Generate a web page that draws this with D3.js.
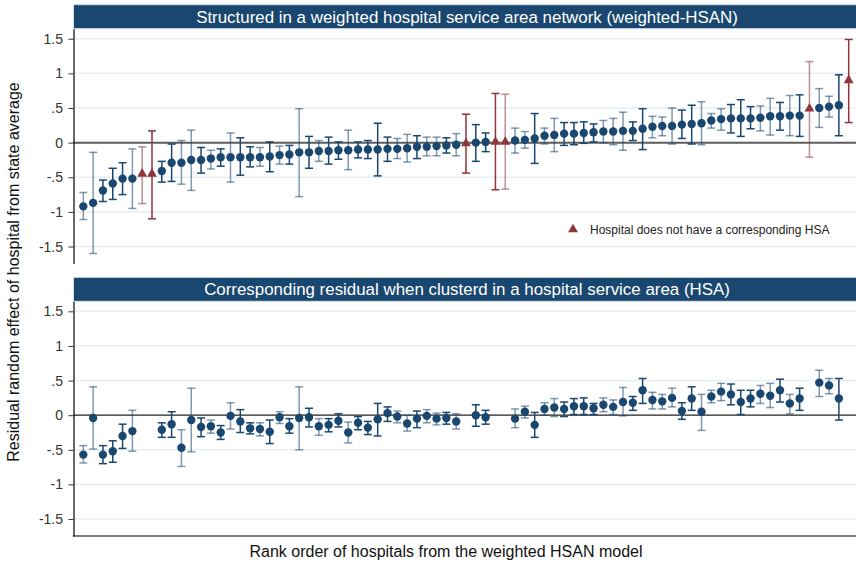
<!DOCTYPE html>
<html>
<head>
<meta charset="utf-8">
<script src="https://cdn.jsdelivr.net/npm/d3@7"></script>
<style>
  body { margin: 0; background: #fff; }
  text { font-family: "Liberation Sans", Arial, sans-serif; }
</style>
</head>
<body>
<div id="chart"></div>
<script>
// rank order of hospitals (weighted HSAN model)
let ranks = d3.range(1, 80);

// top panel: weighted-HSAN residuals
let hsanEst = [-0.92,-0.87,-0.69,-0.59,-0.52,-0.52,-0.45,-0.45,-0.41,-0.29,
  -0.29,-0.25,-0.25,-0.23,-0.21,-0.21,-0.21,-0.21,-0.21,-0.20,
  -0.18,-0.17,-0.14,-0.14,-0.12,-0.12,-0.11,-0.11,-0.10,-0.10,
  -0.10,-0.09,-0.09,-0.08,-0.06,-0.06,-0.05,-0.04,-0.03,-0.01,
  0.00,0.01,0.01,0.01,0.03,0.04,0.06,0.10,0.11,0.13,
  0.13,0.14,0.15,0.16,0.16,0.17,0.17,0.20,0.23,0.24,
  0.24,0.26,0.27,0.28,0.32,0.34,0.35,0.35,0.35,0.36,
  0.38,0.38,0.39,0.39,0.49,0.50,0.52,0.54,0.90];
let hsanLo = [-1.11,-1.60,-0.85,-0.82,-0.75,-0.95,-0.88,-1.10,-0.57,-0.56,
  -0.60,-0.69,-0.44,-0.38,-0.34,-0.57,-0.47,-0.35,-0.34,-0.42,
  -0.31,-0.31,-0.78,-0.37,-0.27,-0.31,-0.24,-0.39,-0.22,-0.23,
  -0.48,-0.27,-0.23,-0.28,-0.23,-0.19,-0.19,-0.15,-0.19,-0.44,
  -0.27,-0.13,-0.68,-0.67,-0.15,-0.08,-0.30,-0.02,-0.13,-0.04,
  -0.03,-0.01,0.01,0.00,-0.03,-0.11,0.03,-0.10,0.07,0.10,
  -0.02,0.06,-0.02,-0.03,0.21,0.18,0.14,0.09,0.20,0.17,
  0.11,0.18,0.10,0.09,-0.21,0.22,0.37,0.10,0.29];
let hsanHi = [-0.72,-0.14,-0.54,-0.37,-0.29,-0.09,-0.06,0.17,-0.27,-0.02,
  0.03,0.18,-0.07,-0.11,-0.09,0.14,0.07,-0.06,-0.07,0.01,
  -0.05,-0.04,0.49,0.09,0.03,0.08,0.01,0.18,0.01,0.03,
  0.28,0.08,0.06,0.12,0.10,0.08,0.08,0.07,0.13,0.41,
  0.26,0.14,0.71,0.70,0.21,0.16,0.42,0.21,0.35,0.29,
  0.29,0.30,0.27,0.32,0.35,0.44,0.30,0.49,0.38,0.37,
  0.50,0.47,0.54,0.59,0.42,0.49,0.55,0.62,0.52,0.53,
  0.64,0.58,0.68,0.69,1.17,0.78,0.67,0.98,1.49];

// bottom panel: HSA residuals (null = no corresponding HSA)
let hsaEst = [-0.57,-0.04,-0.57,-0.52,-0.30,-0.23,null,null,-0.21,-0.13,
  -0.47,-0.07,-0.17,-0.16,-0.25,-0.01,-0.09,-0.19,-0.20,-0.24,
  -0.03,-0.16,-0.04,-0.03,-0.16,-0.14,-0.08,-0.25,-0.11,-0.18,
  -0.06,0.03,-0.02,-0.12,-0.05,-0.01,-0.05,-0.04,-0.09,null,
  0.00,-0.03,null,null,-0.05,0.05,-0.14,0.09,0.11,0.09,
  0.13,0.13,0.10,0.15,0.12,0.19,0.18,0.36,0.22,0.20,
  0.25,0.06,0.24,0.05,0.27,0.34,0.30,0.19,0.24,0.31,
  0.28,0.36,0.17,0.24,null,0.47,0.43,0.24,null];
let hsaLo = [-0.69,-0.49,-0.70,-0.68,-0.48,-0.52,null,null,-0.32,-0.32,
  -0.74,-0.53,-0.31,-0.26,-0.35,-0.20,-0.25,-0.27,-0.30,-0.41,
  -0.12,-0.26,-0.50,-0.17,-0.29,-0.24,-0.17,-0.40,-0.21,-0.28,
  -0.30,-0.09,-0.11,-0.23,-0.18,-0.11,-0.14,-0.13,-0.20,null,
  -0.16,-0.13,null,null,-0.18,-0.04,-0.32,0.00,-0.02,-0.02,
  0.01,0.01,0.01,0.05,0.01,-0.01,0.07,0.17,0.09,0.09,
  0.12,-0.06,0.07,-0.22,0.18,0.21,0.15,0.01,0.12,0.17,
  0.11,0.19,0.02,0.07,null,0.27,0.31,-0.07,null];
let hsaHi = [-0.44,0.41,-0.44,-0.37,-0.13,0.07,null,null,-0.11,0.05,
  -0.21,0.39,-0.04,-0.07,-0.15,0.18,0.08,-0.11,-0.11,-0.07,
  0.05,-0.05,0.41,0.10,-0.05,-0.05,0.02,-0.10,-0.02,-0.09,
  0.17,0.12,0.06,0.00,0.06,0.08,0.03,0.04,0.02,null,
  0.15,0.07,null,null,0.09,0.13,0.04,0.18,0.24,0.19,
  0.24,0.25,0.17,0.25,0.22,0.40,0.27,0.53,0.33,0.30,
  0.39,0.18,0.41,0.30,0.36,0.46,0.45,0.36,0.36,0.43,
  0.46,0.52,0.30,0.39,null,0.65,0.53,0.53,null];

// hospitals without a corresponding HSA (shown as triangles on top)
let noHsa = [7, 8, 40, 43, 44, 75, 79];
// 1 = lighter CI bar
let lightBar = [1,1,0,0,0,1,1,0,0,0, 1,1,0,1,0,1,0,0,1,0, 1,0,1,0,1,0,0,1,0,0,
  0,0,1,1,0,1,1,0,1,0, 0,0,0,1,1,1,0,1,1,0, 0,0,0,1,1,1,0,0,1,1,
  1,0,0,1,1,1,0,0,0,1, 1,0,1,0,1,1,1,0,0];

let yTicks = [-1.5, -1, -0.5, 0, 0.5, 1, 1.5];
let yTickLabels = ["-1.5", "-1", "-.5", "0", ".5", "1", "1.5"];
let titles = ["Structured in a weighted hospital service area network (weighted-HSAN)",
  "Corresponding residual when clusterd in a hospital service area (HSA)"];

let W = 856, H = 564;
let left = 73.5, right = 858.5;
let navy = "#1a476f", maroon = "#90353b";

let svg = d3.select("#chart").append("svg")
  .attr("width", W)
  .attr("height", H);
svg.append("rect").attr("width", W).attr("height", H).attr("fill", "#fff");

let x = d3.scaleLinear().domain([0, 80]).range([left, right]);

let panels = [
  { head: 4.7, top: 28.7, bottom: 263.5, est: hsanEst, lo: hsanLo, hi: hsanHi, zero: "#5c5c5c", zw: 2, axisBottom: false },
  { head: 277.3, top: 301.3, bottom: 536, est: hsaEst, lo: hsaLo, hi: hsaHi, zero: "#222", zw: 1.3, axisBottom: true }
];

panels.forEach((p, pi) => {
  let y = d3.scaleLinear().domain([-1.745, 1.645]).range([p.bottom, p.top]);
  let g = svg.append("g");

  // grid
  g.selectAll(".grid").data(yTicks.filter(t => t !== 0)).enter().append("line")
    .attr("x1", left).attr("x2", right)
    .attr("y1", d => y(d)).attr("y2", d => y(d))
    .attr("stroke", "#e6eef2").attr("stroke-width", 1.5);

  // header strip
  g.append("rect")
    .attr("x", left).attr("y", p.head)
    .attr("width", right - left).attr("height", p.top - p.head)
    .attr("fill", navy).attr("stroke", "#d5e0e8").attr("stroke-width", 1);
  g.append("text")
    .attr("x", 467).attr("y", p.head + 18)
    .attr("text-anchor", "middle")
    .attr("fill", "#fff").style("font-size", "16.9px")
    .text(titles[pi]);

  // zero line
  g.append("line")
    .attr("x1", left).attr("x2", right)
    .attr("y1", y(0)).attr("y2", y(0))
    .attr("stroke", p.zero).attr("stroke-width", p.zw);

  // axis
  let ax = g.append("g").attr("transform", "translate(" + left + ",0)")
    .call(d3.axisLeft(y).tickValues(yTicks)
      .tickFormat((d, i) => yTickLabels[i])
      .tickSize(5).tickSizeOuter(0).tickPadding(5.5));
  ax.select(".domain").attr("stroke", "#000").attr("stroke-width", 1.2);
  ax.selectAll(".tick line").attr("stroke", "#333");
  ax.selectAll(".tick text").attr("fill", "#333")
    .style("font-size", "14px").style("font-family", "Liberation Sans, Arial, sans-serif");

  if (p.axisBottom) {
    g.append("line")
      .attr("x1", left - 0.6).attr("x2", right)
      .attr("y1", p.bottom).attr("y2", p.bottom)
      .attr("stroke", "#000").attr("stroke-width", 1.2);
  }

  let rows = ranks.map((r, i) => ({
    rank: r, est: p.est[i], lo: p.lo[i], hi: p.hi[i],
    tri: noHsa.includes(r), light: lightBar[i] === 1
  })).filter(d => d.est !== null);

  let color = d => d.tri ? maroon : navy;
  let op = d => d.light ? 0.55 : 1;

  // CI bars
  let bars = g.selectAll(".ci").data(rows).enter().append("g")
    .attr("stroke", color).attr("stroke-opacity", op).attr("stroke-width", 1.5);
  bars.append("line")
    .attr("x1", d => x(d.rank)).attr("x2", d => x(d.rank))
    .attr("y1", d => y(d.lo)).attr("y2", d => y(d.hi));
  bars.append("line")
    .attr("x1", d => x(d.rank) - 4).attr("x2", d => x(d.rank) + 4)
    .attr("y1", d => y(d.lo)).attr("y2", d => y(d.lo));
  bars.append("line")
    .attr("x1", d => x(d.rank) - 4).attr("x2", d => x(d.rank) + 4)
    .attr("y1", d => y(d.hi)).attr("y2", d => y(d.hi));

  // markers
  g.selectAll(".dot").data(rows.filter(d => !d.tri)).enter().append("circle")
    .attr("cx", d => x(d.rank)).attr("cy", d => y(d.est))
    .attr("r", 4.2).attr("fill", navy);
  g.selectAll(".tri").data(rows.filter(d => d.tri)).enter().append("path")
    .attr("d", d3.symbol(d3.symbolTriangle).size(42))
    .attr("transform", d => "translate(" + x(d.rank) + "," + y(d.est) + ")")
    .attr("fill", maroon);

  if (pi === 0) {
    svg.append("path")
      .attr("d", d3.symbol(d3.symbolTriangle).size(42))
      .attr("transform", "translate(573," + 229.5 + ")")
      .attr("fill", maroon);
    svg.append("text")
      .attr("x", 590).attr("y", 234)
      .attr("fill", "#222").style("font-size", "12px")
      .text("Hospital does not have a corresponding HSA");
  }
});

// axis titles
svg.append("text")
  .attr("x", 446).attr("y", 557)
  .attr("text-anchor", "middle")
  .attr("fill", "#111").style("font-size", "16px")
  .text("Rank order of hospitals from the weighted HSAN model");
svg.append("text")
  .attr("transform", "translate(19,272) rotate(-90)")
  .attr("text-anchor", "middle")
  .attr("fill", "#111").style("font-size", "16px")
  .text("Residual random effect of hospital from state average");
</script>
</body>
</html>
